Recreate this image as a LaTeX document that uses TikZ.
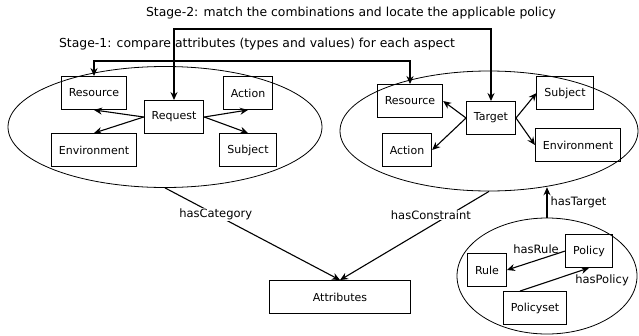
\documentclass[tikz,border=0pt]{standalone}
\usepackage{fontspec}
\setmainfont{DejaVu Sans}
\usetikzlibrary{arrows.meta,shapes.geometric}

\begin{document}
\begin{tikzpicture}[x=1pt,y=-1pt,
    box/.style={draw, line width=0.9pt, minimum height=33pt, inner xsep=7.5pt, font=\fontsize{11}{13}\selectfont},
    oval/.style={draw, ellipse, line width=0.8pt, inner sep=0pt},
    arr/.style={-{Stealth[length=8pt,width=7pt]}, line width=1.1pt},
    stage/.style={{Stealth[length=8pt,width=7pt]}-{Stealth[length=8pt,width=7pt]}, line width=1.6pt},
    lbl/.style={font=\fontsize{11.5}{13}\selectfont, fill=white, inner sep=1pt},
    stagetext/.style={font=\fontsize{12.4}{14}\selectfont, inner sep=1pt}]
    \useasboundingbox (0,0) rectangle (639,335);

    % 1. The three ellipses
    \node[oval, minimum width=314pt, minimum height=121pt] (lell) at (165,127) {};
    \node[oval, minimum width=298pt, minimum height=120pt] (rell) at (489,131) {};
    \node[oval, minimum width=180pt, minimum height=116pt] (sell) at (547,276) {};

    % 2. Request side
    \node[box] (req) at (174,117) {Request};
    \node[box] (lres) at (94,93) {Resource};
    \node[box] (lact) at (248,93) {Action};
    \node[box] (lenv) at (94,150) {Environment};
    \node[box] (lsub) at (248,150) {Subject};
    \draw[arr] (req.west) -- (lres.south);
    \draw[arr] (req.west) -- (lenv.north);
    \draw[arr] (req.east) -- (lact.south);
    \draw[arr] (req.east) -- (lsub.north);

    % 3. Target side
    \node[box] (tgt) at (491,118) {Target};
    \node[box] (rres) at (410,101) {Resource};
    \node[box] (ract) at (407,150) {Action};
    \node[box] (rsub) at (565,93) {Subject};
    \node[box] (renv) at (578,145) {Environment};
    \draw[arr] (tgt.west) -- (rres.east);
    \draw[arr] (tgt.west) -- (ract.east);
    \draw[arr] (tgt.east) -- (rsub.west);
    \draw[arr] (tgt.east) -- (renv.west);

    % 4. Stage lines across the top
    \node[stagetext] (stage2) at (351,13) {Stage-2: match the combinations and locate the applicable policy};
    \node[stagetext] (stage1) at (257,44) {Stage-1: compare attributes (types and values) for each aspect};
    \coordinate (s1) at (0,61);
    \coordinate (s2) at (0,29);
    \draw[stage] (lres.north) -- (lres.north |- s1) -| (rres.north);
    \draw[stage] (req.north) -- (req.north |- s2) -| (tgt.north);

    % 5. Attributes
    \node[box, minimum width=141pt] (attr) at (340,297) {Attributes};
    \draw[arr] (lell.south) -- node[lbl, pos=0.29] (hcat) {hasCategory} (attr.north);
    \draw[arr] (rell.south) -- node[lbl, pos=0.39, yshift=11pt] (hcon) {hasConstraint} (attr.north);

    % 6. Policy part
    \node[box] (rule) at (487,270) {Rule};
    \node[box] (pol) at (589,251) {Policy};
    \node[box] (pset) at (535,308) {Policyset};
    \coordinate (tpt) at (rell.-46);
    \draw[arr] (sell.north) -- node[lbl, right, fill=none, inner sep=3pt] (htgt) {hasTarget} (sell.north |- tpt);
    \draw[arr] (pol.west) -- node[lbl, above=5pt, fill=none] (hrule) {hasRule} (rule.east);
    \draw[arr] ([xshift=-15pt]pset.north) -- node[lbl, pos=0.78, anchor=north west, fill=none] (hpol) {hasPolicy} (pol.south);
\end{tikzpicture}
\end{document}
